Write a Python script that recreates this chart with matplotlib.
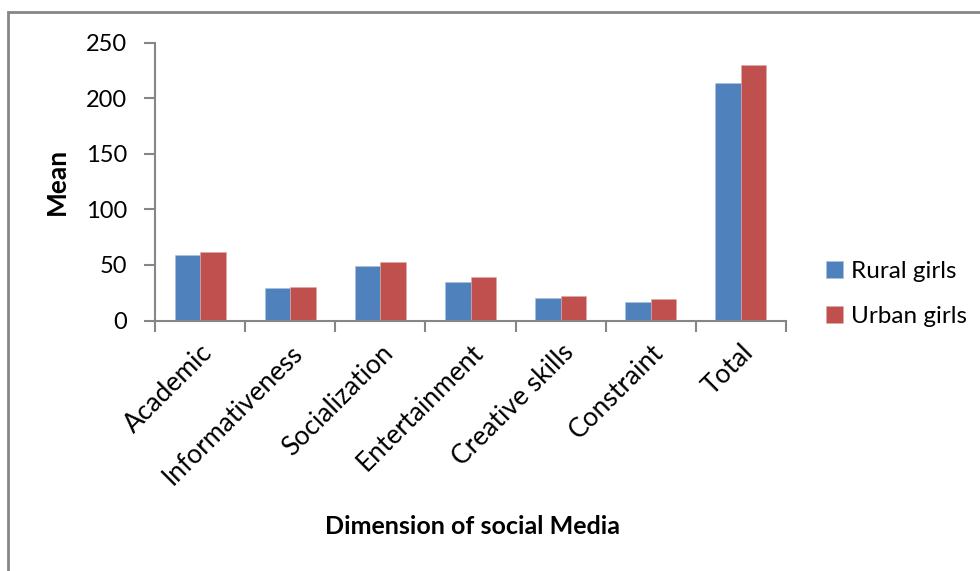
import matplotlib
matplotlib.use("Agg")
import matplotlib.pyplot as plt
from matplotlib.patches import Rectangle
import numpy as np

plt.rcParams['font.family'] = ['Lato', 'DejaVu Sans']

categories = ["Academic", "Informativeness", "Socialization", "Entertainment",
              "Creative skills", "Constraint", "Total"]
rural = [58.5, 28.8, 49.2, 34.5, 20.0, 17.0, 213.6]
urban = [62.0, 29.7, 52.5, 39.0, 22.0, 19.0, 230.0]
series_names = ["Rural girls", "Urban girls"]
colors = ["#4F81BD", "#C0504D"]
yticks = [0, 50, 100, 150, 200, 250]

W, H = 980, 571
fig = plt.figure(figsize=(W / 100, H / 100), dpi=100)
ax = fig.add_axes([155 / W, 1 - 320.5 / H, (786 - 155) / W, (320.5 - 42.5) / H])

x = np.arange(len(categories))
bw = 0.283
ax.bar(x - bw / 2, rural, bw, color=colors[0], label=series_names[0], edgecolor="#A9C1E0", linewidth=0.4)
ax.bar(x + bw / 2, urban, bw, color=colors[1], label=series_names[1], edgecolor="#E0A9A8", linewidth=0.4)

ax.set_xlim(-0.5, len(categories) - 0.5)
ax.set_ylim(0, 250)
ax.set_yticks(yticks)
ax.set_yticklabels([str(v) for v in yticks], fontsize=17)

axis_col = "#868686"
for s in ["top", "right"]:
    ax.spines[s].set_visible(False)
for s in ["left", "bottom"]:
    ax.spines[s].set_color(axis_col)
    ax.spines[s].set_linewidth(1.5)
ax.tick_params(axis="y", direction="out", length=8, width=1.5, color=axis_col, pad=12)

# category ticks between groups, labels at group centres
ax.set_xticks(np.arange(len(categories) + 1) - 0.5)
ax.set_xticklabels([])
ax.tick_params(axis="x", direction="out", length=8, width=1.5, color=axis_col)
ax.set_xticks(x, minor=True)
ax.set_xticklabels(categories, minor=True, rotation=45, ha="right",
                   rotation_mode="anchor", fontsize=19)
ax.tick_params(axis="x", which="minor", length=0, pad=14)

ax.set_ylabel("Mean", fontsize=19, fontweight="bold", labelpad=12)
fig.text(472 / W, 1 - 527 / H, "Dimension of social Media", ha="center", va="center",
         fontsize=18, fontweight="bold")

leg = ax.legend(loc="center left", bbox_to_anchor=(804 / W, 1 - 294 / H),
                bbox_transform=fig.transFigure, frameon=False, fontsize=17.5,
                handlelength=0.7, handleheight=0.7, handletextpad=0.35,
                labelspacing=1.0)

# outer chart frame
fig.patches.append(Rectangle((8 / W, -0.05), 1.2, 1 - 12.5 / H + 0.05,
                             transform=fig.transFigure, fill=False,
                             edgecolor=axis_col, linewidth=2))

fig.savefig("out.png", dpi=100)
